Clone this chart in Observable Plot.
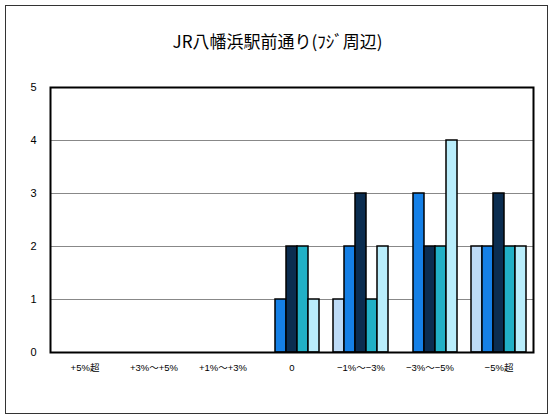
<!DOCTYPE html>
<html><head><meta charset="utf-8">
<script src="https://cdn.jsdelivr.net/npm/d3@7"></script>
<script src="https://cdn.jsdelivr.net/npm/@observablehq/plot@0.6"></script>
<style>
body{margin:0;background:#fff;}
#wrap{position:relative;width:555px;height:417px;overflow:hidden;}
#border{position:absolute;left:5px;top:5px;width:543px;height:409px;border:1px solid #333;box-sizing:border-box;}
#title{position:absolute;left:0;top:28px;width:555px;text-align:center;font-family:"Noto Sans CJK JP",sans-serif;font-size:17px;color:#000;}
#chart{position:absolute;left:0;top:0;}
</style></head>
<body>
<div id="wrap"><div id="border"></div><div id="title">JR八幡浜駅前通り(ﾌｼﾞ周辺)</div><div id="chart"></div></div>
<script>
const categories = ["+5%超","+3%～+5%","+1%～+3%","0","−1%～−3%","−3%～−5%","−5%超"];
const seriesNames = ["系列1","系列2","系列3","系列4","系列5"];
const series1 = [0,0,0,0,1,0,2];
const series2 = [0,0,0,1,2,3,2];
const series3 = [0,0,0,2,3,2,3];
const series4 = [0,0,0,2,1,2,2];
const series5 = [0,0,0,1,2,4,2];
const yTicks = [0,1,2,3,4,5];
const gridValues = [1,2,3,4];
const colors = ["#BDDBF7","#1580E6","#0B2D50","#21B0C6","#B9EDFB"];

const allSeries = [series1,series2,series3,series4,series5];
const rows = [];
allSeries.forEach((vals,si)=>vals.forEach((v,ci)=>rows.push({category:categories[ci],series:seriesNames[si],value:v})));
const bars = rows.filter(d=>d.value>0);
const grid = [];
categories.forEach(c=>gridValues.forEach(g=>grid.push({category:c,y:g})));

const chart = Plot.plot({
  width:555, height:417,
  marginLeft:49, marginRight:21, marginTop:87, marginBottom:65,
  style:{fontFamily:"'Liberation Sans','Noto Sans CJK JP',sans-serif",fontSize:"10px",color:"#000",background:"transparent"},
  fx:{domain:categories,padding:0,label:null},
  x:{domain:seriesNames,paddingInner:0,paddingOuter:0.62,axis:null},
  y:{domain:[0,5],label:null,ticks:yTicks,tickFormat:"d"},
  color:{domain:seriesNames,range:colors},
  marks:[
    Plot.ruleY(grid,{fx:"category",y:"y",stroke:"#888",strokeWidth:1}),
    Plot.barY(bars,{fx:"category",x:"series",y:"value",fill:"series",stroke:"#000",strokeWidth:1.5}),
    Plot.frame({facet:"super",stroke:"#000",strokeWidth:2}),
    Plot.axisY({ticks:yTicks,tickFormat:"d",tickSize:0,tickPadding:14,fontSize:11}),
    Plot.axisFx({anchor:"bottom",tickSize:0,tickPadding:12,fontSize:9.5,label:null})
  ]
});
document.getElementById("chart").appendChild(chart);
</script>
</body></html>
